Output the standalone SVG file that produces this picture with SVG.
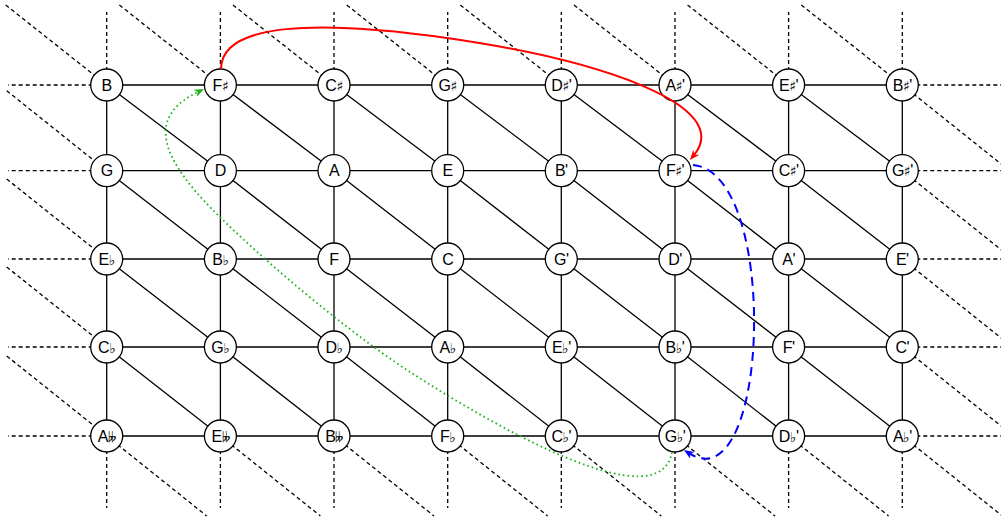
<svg xmlns="http://www.w3.org/2000/svg" width="1001" height="519" viewBox="0 0 1001 519">
<style>
.solid{fill:none;stroke:#000;stroke-width:1.3}
.dash{fill:none;stroke:#000;stroke-width:1.3;stroke-dasharray:4 3}
.node circle{fill:#fff;stroke:#000;stroke-width:1.3}
.node text{font-family:"Liberation Sans","DejaVu Sans",sans-serif;font-size:16px;text-anchor:middle;fill:#000;letter-spacing:-0.5px}
.acc{font-family:"DejaVu Sans","Noto Sans",sans-serif;font-size:14px}
</style>
<defs>
<marker id="ah-red" markerWidth="10" markerHeight="8" refX="4" refY="4" orient="auto" markerUnits="userSpaceOnUse" viewBox="0 0 10 8"><path d="M0,0 L10,4 L0,8 L3,4 z" fill="#ff0000"/></marker>
<marker id="ah-blue" markerWidth="10" markerHeight="8" refX="4" refY="4" orient="auto" markerUnits="userSpaceOnUse" viewBox="0 0 10 8"><path d="M0,0 L10,4 L0,8 L3,4 z" fill="#0000ff"/></marker>
<marker id="ah-green" markerWidth="10" markerHeight="8" refX="4" refY="4" orient="auto" markerUnits="userSpaceOnUse" viewBox="0 0 10 8"><path d="M0,0 L10,4 L0,8 L3,4 z" fill="#19b319"/></marker>
</defs>
<rect width="1001" height="519" fill="#fff"/>
<g id="connectors">
<path class="dash" d="M106.7,85V12M220.4,85V12M334,85V12M447.7,85V12M561.3,85V12M675,85V12M788.6,85V12M902.3,85V12
M106.7,436V508M220.4,436V508M334,436V508M447.7,436V508M561.3,436V508M675,436V508M788.6,436V508M902.3,436V508
M106.7,85H8M106.7,170.7H8M106.7,259H8M106.7,347H8M106.7,436H8
M902.3,85H1001M902.3,170.7H1001M902.3,259H1001M902.3,347H1001M902.3,436H1001
M5.7,5L106.7,85M119.4,5L220.4,85M233,5L334,85M346.7,5L447.7,85M460.3,5L561.3,85M574,5L675,85M687.6,5L788.6,85M801.3,5L902.3,85
M6.7,90.7L106.7,170.7M6.7,179L106.7,259M6.7,267L106.7,347M6.7,356L106.7,436
M902.3,85L1002.3,165M902.3,170.7L1002.3,250.7M902.3,259L1002.3,339M902.3,347L1002.3,427M902.3,436L1002.3,516
M106.7,436L206.7,516M220.4,436L320.4,516M334,436L434,516M447.7,436L547.7,516M561.3,436L661.3,516M675,436L775,516M788.6,436L888.6,516"/>
<path class="solid" d="M106.7,85H902.3M106.7,170.7H902.3M106.7,259H902.3M106.7,347H902.3M106.7,436H902.3
M106.7,85V436M220.4,85V436M334,85V436M447.7,85V436M561.3,85V436M675,85V436M788.6,85V436M902.3,85V436
M106.7,85L220.4,170.7M220.4,85L334,170.7M334,85L447.7,170.7M447.7,85L561.3,170.7M561.3,85L675,170.7M675,85L788.6,170.7M788.6,85L902.3,170.7
M106.7,170.7L220.4,259M220.4,170.7L334,259M334,170.7L447.7,259M447.7,170.7L561.3,259M561.3,170.7L675,259M675,170.7L788.6,259M788.6,170.7L902.3,259
M106.7,259L220.4,347M220.4,259L334,347M334,259L447.7,347M447.7,259L561.3,347M561.3,259L675,347M675,259L788.6,347M788.6,259L902.3,347
M106.7,347L220.4,436M220.4,347L334,436M334,347L447.7,436M447.7,347L561.3,436M561.3,347L675,436M675,347L788.6,436M788.6,347L902.3,436"/>
</g>
<g id="n-0-0" class="node"><circle cx="106.7" cy="85" r="16"/><text x="106.7" y="90.7">B</text></g>
<g id="n-0-1" class="node"><circle cx="220.4" cy="85" r="16"/><text x="220.4" y="90.7">F<tspan class="acc">♯</tspan></text></g>
<g id="n-0-2" class="node"><circle cx="334" cy="85" r="16"/><text x="334" y="90.7">C<tspan class="acc">♯</tspan></text></g>
<g id="n-0-3" class="node"><circle cx="447.7" cy="85" r="16"/><text x="447.7" y="90.7">G<tspan class="acc">♯</tspan></text></g>
<g id="n-0-4" class="node"><circle cx="561.3" cy="85" r="16"/><text x="561.3" y="90.7">D<tspan class="acc">♯</tspan>'</text></g>
<g id="n-0-5" class="node"><circle cx="675" cy="85" r="16"/><text x="675" y="90.7">A<tspan class="acc">♯</tspan>'</text></g>
<g id="n-0-6" class="node"><circle cx="788.6" cy="85" r="16"/><text x="788.6" y="90.7">E<tspan class="acc">♯</tspan>'</text></g>
<g id="n-0-7" class="node"><circle cx="902.3" cy="85" r="16"/><text x="902.3" y="90.7">B<tspan class="acc">♯</tspan>'</text></g>
<g id="n-1-0" class="node"><circle cx="106.7" cy="170.7" r="16"/><text x="106.7" y="176.4">G</text></g>
<g id="n-1-1" class="node"><circle cx="220.4" cy="170.7" r="16"/><text x="220.4" y="176.4">D</text></g>
<g id="n-1-2" class="node"><circle cx="334" cy="170.7" r="16"/><text x="334" y="176.4">A</text></g>
<g id="n-1-3" class="node"><circle cx="447.7" cy="170.7" r="16"/><text x="447.7" y="176.4">E</text></g>
<g id="n-1-4" class="node"><circle cx="561.3" cy="170.7" r="16"/><text x="561.3" y="176.4">B'</text></g>
<g id="n-1-5" class="node"><circle cx="675" cy="170.7" r="16"/><text x="675" y="176.4">F<tspan class="acc">♯</tspan>'</text></g>
<g id="n-1-6" class="node"><circle cx="788.6" cy="170.7" r="16"/><text x="788.6" y="176.4">C<tspan class="acc">♯</tspan>'</text></g>
<g id="n-1-7" class="node"><circle cx="902.3" cy="170.7" r="16"/><text x="902.3" y="176.4">G<tspan class="acc">♯</tspan>'</text></g>
<g id="n-2-0" class="node"><circle cx="106.7" cy="259" r="16"/><text x="106.7" y="264.7">E<tspan class="acc">♭</tspan></text></g>
<g id="n-2-1" class="node"><circle cx="220.4" cy="259" r="16"/><text x="220.4" y="264.7">B<tspan class="acc">♭</tspan></text></g>
<g id="n-2-2" class="node"><circle cx="334" cy="259" r="16"/><text x="334" y="264.7">F</text></g>
<g id="n-2-3" class="node"><circle cx="447.7" cy="259" r="16"/><text x="447.7" y="264.7">C</text></g>
<g id="n-2-4" class="node"><circle cx="561.3" cy="259" r="16"/><text x="561.3" y="264.7">G'</text></g>
<g id="n-2-5" class="node"><circle cx="675" cy="259" r="16"/><text x="675" y="264.7">D'</text></g>
<g id="n-2-6" class="node"><circle cx="788.6" cy="259" r="16"/><text x="788.6" y="264.7">A'</text></g>
<g id="n-2-7" class="node"><circle cx="902.3" cy="259" r="16"/><text x="902.3" y="264.7">E'</text></g>
<g id="n-3-0" class="node"><circle cx="106.7" cy="347" r="16"/><text x="106.7" y="352.7">C<tspan class="acc">♭</tspan></text></g>
<g id="n-3-1" class="node"><circle cx="220.4" cy="347" r="16"/><text x="220.4" y="352.7">G<tspan class="acc">♭</tspan></text></g>
<g id="n-3-2" class="node"><circle cx="334" cy="347" r="16"/><text x="334" y="352.7">D<tspan class="acc">♭</tspan></text></g>
<g id="n-3-3" class="node"><circle cx="447.7" cy="347" r="16"/><text x="447.7" y="352.7">A<tspan class="acc">♭</tspan></text></g>
<g id="n-3-4" class="node"><circle cx="561.3" cy="347" r="16"/><text x="561.3" y="352.7">E<tspan class="acc">♭</tspan>'</text></g>
<g id="n-3-5" class="node"><circle cx="675" cy="347" r="16"/><text x="675" y="352.7">B<tspan class="acc">♭</tspan>'</text></g>
<g id="n-3-6" class="node"><circle cx="788.6" cy="347" r="16"/><text x="788.6" y="352.7">F'</text></g>
<g id="n-3-7" class="node"><circle cx="902.3" cy="347" r="16"/><text x="902.3" y="352.7">C'</text></g>
<g id="n-4-0" class="node"><circle cx="106.7" cy="436" r="16"/><text x="106.7" y="441.7">A<tspan class="acc">𝄫</tspan></text></g>
<g id="n-4-1" class="node"><circle cx="220.4" cy="436" r="16"/><text x="220.4" y="441.7">E<tspan class="acc">𝄫</tspan></text></g>
<g id="n-4-2" class="node"><circle cx="334" cy="436" r="16"/><text x="334" y="441.7">B<tspan class="acc">𝄫</tspan></text></g>
<g id="n-4-3" class="node"><circle cx="447.7" cy="436" r="16"/><text x="447.7" y="441.7">F<tspan class="acc">♭</tspan></text></g>
<g id="n-4-4" class="node"><circle cx="561.3" cy="436" r="16"/><text x="561.3" y="441.7">C<tspan class="acc">♭</tspan>'</text></g>
<g id="n-4-5" class="node"><circle cx="675" cy="436" r="16"/><text x="675" y="441.7">G<tspan class="acc">♭</tspan>'</text></g>
<g id="n-4-6" class="node"><circle cx="788.6" cy="436" r="16"/><text x="788.6" y="441.7">D<tspan class="acc">♭</tspan>'</text></g>
<g id="n-4-7" class="node"><circle cx="902.3" cy="436" r="16"/><text x="902.3" y="441.7">A<tspan class="acc">♭</tspan>'</text></g>
<g id="arrows">
<path d="M221,69 C221,22 320,20 447,38 C600,60 735,105 693.8,155.4" fill="none" stroke="#ff0000" stroke-width="2" marker-end="url(#ah-red)"/>
<path d="M693,165 C780,172 770,505 689,453.2" fill="none" stroke="#0000ff" stroke-width="2" stroke-dasharray="9 6" marker-end="url(#ah-blue)"/>
<path d="M672,452 C660,520 500,430 410,372 C330,320 227,228 197,193 C160,150 150,115 198.6,91.6" fill="none" stroke="#19b319" stroke-width="1.8" stroke-dasharray="1.6 3" marker-end="url(#ah-green)"/>
</g>
</svg>
